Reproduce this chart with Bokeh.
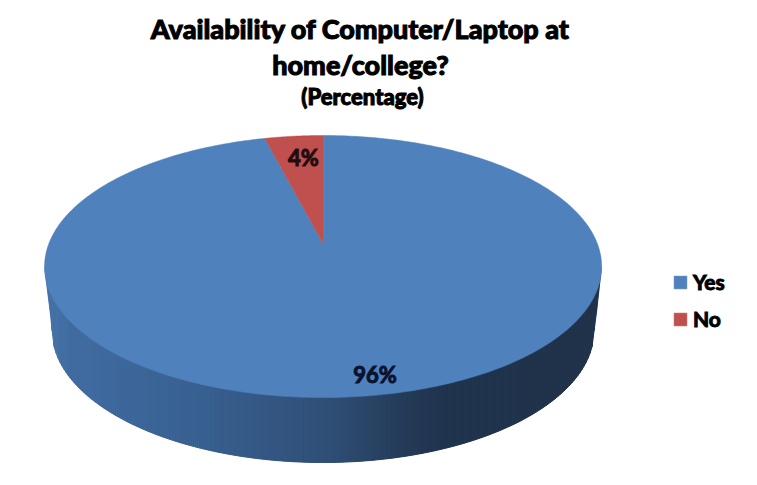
import numpy as np
from bokeh.plotting import figure
from bokeh.models import Legend, LegendItem
from bokeh.core.properties import value
from bokeh.embed import file_html
from bokeh.resources import INLINE

categories = ["Yes", "No"]
percentages = [96, 4]
title_lines = ["Availability of Computer/Laptop at", "home/college?"]
subtitle = "(Percentage)"
FONT = "Lato"
HEAVY = "Lato Black"

slice_colors = ["#4F81BD", "#C0504D"]
APEX = (322.6, 243.0)
A, B, K = 274.2, 127.0, 0.1757


def project(theta):
    """Map a clockwise-from-top pie angle onto the tilted disc."""
    X, Y = np.sin(theta), np.cos(theta)
    d = 1 + K * Y
    return APEX[0] + A * X / d, APEX[1] - B * Y / d


p = figure(width=741, height=469, x_range=(0, 741), y_range=(469, 0),
           output_backend="svg", toolbar_location=None, min_border=0,
           outline_line_color=None, background_fill_color="white")
p.axis.visible = False
p.grid.visible = False

# side wall of the disc, shaded in narrow vertical strips
stops_x = [44, 70, 200, 330, 400, 440, 601]
stops_rgb = np.array([[70, 116, 170], [64, 108, 162], [56, 96, 145],
                      [47, 78, 118], [36, 60, 90], [32, 52, 78], [31, 50, 74]], float)
BOT_CX, BOT_CY, BOT_RX, BOT_RY = 322.6, 330.0, 271.0, 132.0


def wall_bottom(x):
    u = (x - BOT_CX) / BOT_RX
    if abs(u) <= 1:
        return BOT_CY + BOT_RY * np.sqrt(1 - u * u)
    if x < BOT_CX:
        return 266 + (x - 44) * 64 / 8
    return 266 + (601 - x) * 64 / 7


edges = np.unique(np.concatenate([[44.5, 46, 48, 50, 51.6], np.linspace(51.6, 593.6, 272), [596, 598, 600, 600.5]]))
xs, ys, cols = [], [], []
for a, b in zip(edges[:-1], edges[1:]):
    xs.append([a, b, b, a])
    ys.append([266, 266, wall_bottom(b), wall_bottom(a)])
    m = (a + b) / 2
    cols.append("#%02x%02x%02x" % tuple(int(np.interp(m, stops_x, stops_rgb[:, c])) for c in range(3)))
p.patches(xs, ys, fill_color=cols, line_color=cols, line_width=1)

# top face: slices come from the percentages
total = sum(percentages)
start = 0.0
renderers = []
for name, val, col in zip(categories, percentages, slice_colors):
    end = start + 2 * np.pi * val / total
    t = np.linspace(start, end, 400)
    px, py = project(t)
    renderers.append(p.patch(np.concatenate([[APEX[0]], px]), np.concatenate([[APEX[1]], py]),
                             fill_color=col, line_color=col, line_width=0.5))
    start = end

# data labels
p.text(x=[374.5], y=[374], text=[f"{percentages[0]}%"], text_color="#0B1230",
       text_font=value(FONT), text_font_style="bold", text_font_size="22px",
       text_align="center", text_baseline="middle", text_outline_color="#0B1230")
p.text(x=[303], y=[157], text=[f"{percentages[1]}%"], text_color="#1E0E10",
       text_font=value(FONT), text_font_style="bold", text_font_size="22px",
       text_align="center", text_baseline="middle", text_outline_color="#1E0E10")

# titles
p.text(x=[360, 360], y=[28, 64], text=title_lines, text_color="#000000",
       text_font=value(HEAVY), text_font_size="27px",
       text_align="center", text_baseline="middle",
       text_outline_color="#000000")
p.text(x=[362], y=[96], text=[subtitle], text_color="#000000",
       text_font=value(HEAVY), text_font_size="22px",
       text_align="center", text_baseline="middle",
       text_outline_color="#000000")

legend = Legend(items=[LegendItem(label=c, renderers=[r]) for c, r in zip(categories, renderers)],
                location=(672, 138), border_line_color=None, background_fill_alpha=0,
                label_text_font=FONT, label_text_font_style="bold", label_text_font_size="21px",
                label_text_color="#000000", label_text_outline_color="#000000",
                glyph_width=16, glyph_height=16, spacing=12,
                label_standoff=5, margin=0, padding=5)
p.add_layout(legend, "center")

open("out.html", "w").write(file_html(p, INLINE))
